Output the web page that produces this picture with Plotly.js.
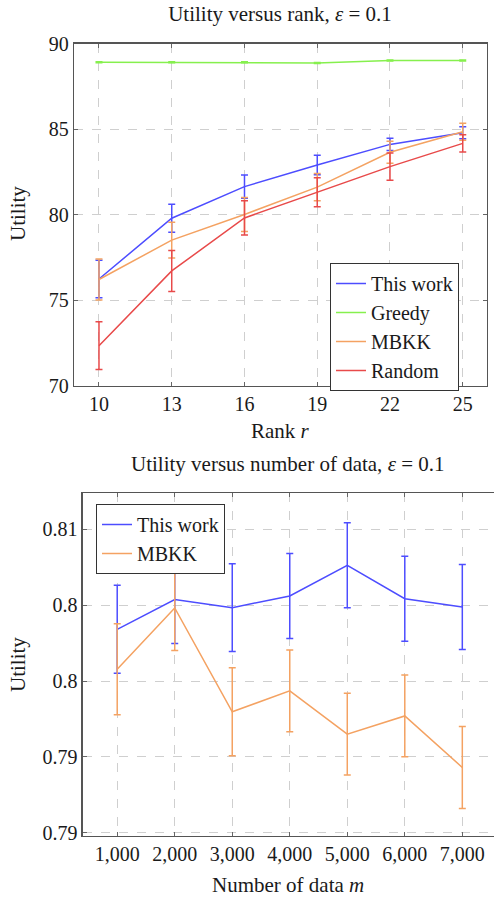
<!DOCTYPE html>
<html>
<head>
<meta charset="utf-8">
<script src="https://cdn.plot.ly/plotly-3.0.1.min.js"></script>
<style>html,body{margin:0;padding:0;background:#fff;}#chart{width:494px;height:898px;}</style>
</head>
<body>
<div id="chart"></div>
<script>
// ---- Top chart: Utility versus rank ----
const rank = [10, 13, 16, 19, 22, 25];
const thisWorkRank = [76.23, 79.78, 81.63, 82.90, 84.10, 84.78];
const thisWorkRankErr = [1.1, 0.82, 0.68, 0.57, 0.36, 0.35];
const greedyRank = [88.9, 88.9, 88.9, 88.86, 89.0, 89.0];
const greedyRankErr = [0.03, 0.03, 0.03, 0.03, 0.03, 0.03];
const mbkkRank = [76.2, 78.5, 80.0, 81.6, 83.64, 84.84];
const mbkkRankErr = [1.2, 1.05, 1.0, 0.8, 0.65, 0.5];
const randomRank = [72.33, 76.7, 79.8, 81.3, 82.8, 84.16];
const randomRankErr = [1.4, 1.2, 1.0, 0.85, 0.8, 0.5];
const rankYTicks = [70, 75, 80, 85, 90];

// ---- Bottom chart: Utility versus number of data ----
const numData = [1000, 2000, 3000, 4000, 5000, 6000, 7000];
const thisWorkData = [0.80341, 0.80537, 0.80484, 0.80561, 0.80763, 0.80543, 0.80488];
const thisWorkDataErr = [0.0029, 0.0029, 0.0029, 0.0028, 0.0028, 0.0028, 0.0028];
const mbkkData = [0.80078, 0.80482, 0.79797, 0.79935, 0.7965, 0.7977, 0.7943];
const mbkkDataErr = [0.0030, 0.0028, 0.0029, 0.0027, 0.0027, 0.0027, 0.0027];
const dataYTicks = [0.79, 0.795, 0.8, 0.805, 0.81];
const dataYTickText = ['0.79', '0.79', '0.8', '0.8', '0.81'];

const C_BLUE = '#4d4dff', C_GREEN = '#86f04e', C_ORANGE = '#f4a262', C_RED = '#e84a4a';
const FONT = 'Liberation Serif';
const TXT = '#1a1a1a';

function tr(x, y, e, name, color, xa, ya, leg) {
  return {
    type: 'scatter', mode: 'lines', x: x, y: y, name: name,
    xaxis: xa, yaxis: ya, legend: leg,
    line: {color: color, width: 1.5},
    error_y: {type: 'data', array: e, visible: true, color: color, thickness: 1.5, width: 3.5}
  };
}

const data = [
  tr(rank, thisWorkRank, thisWorkRankErr, 'This work', C_BLUE, 'x', 'y', 'legend'),
  tr(rank, greedyRank, greedyRankErr, 'Greedy', C_GREEN, 'x', 'y', 'legend'),
  tr(rank, mbkkRank, mbkkRankErr, 'MBKK', C_ORANGE, 'x', 'y', 'legend'),
  tr(rank, randomRank, randomRankErr, 'Random', C_RED, 'x', 'y', 'legend'),
  tr(numData, thisWorkData, thisWorkDataErr, 'This work', C_BLUE, 'x2', 'y2', 'legend2'),
  tr(numData, mbkkData, mbkkDataErr, 'MBKK', C_ORANGE, 'x2', 'y2', 'legend2')
];

const W = 494, H = 898;
function ax(extra) {
  return Object.assign({
    showgrid: true, gridcolor: '#cfcfcf', griddash: 'dash', gridwidth: 1,
    zeroline: false, showline: true, linecolor: '#555', linewidth: 1.3,
    ticks: 'inside', ticklen: 4, tickcolor: '#666',
    tickfont: {family: FONT, size: 20, color: TXT}
  }, extra);
}

const legBase = {
  xanchor: 'left', yanchor: 'top',
  bordercolor: '#333', borderwidth: 1, bgcolor: '#fff',
  entrywidth: 100, entrywidthmode: 'pixels',
  font: {family: FONT, size: 20, color: TXT}
};

const layout = {
  width: W, height: H,
  margin: {l: 0, r: 0, t: 0, b: 0},
  paper_bgcolor: '#fff', plot_bgcolor: '#fff',
  font: {family: FONT, color: TXT, size: 20},
  xaxis: ax({
    domain: [74 / W, 487 / W], anchor: 'y', range: [8.97, 26.0],
    tickvals: rank, mirror: 'ticks'
  }),
  yaxis: ax({
    domain: [1 - 385.5 / H, 1 - 43.5 / H], anchor: 'x', range: [70, 90],
    tickvals: rankYTicks, mirror: 'ticks'
  }),
  xaxis2: ax({
    domain: [82.7 / W, 1], anchor: 'y2', range: [400, 7551],
    tickvals: numData, tickformat: ',', mirror: 'ticks'
  }),
  yaxis2: ax({
    domain: [1 - 835.7 / H, 1 - 493 / H], anchor: 'x2', range: [0.7898, 0.8124],
    tickvals: dataYTicks, ticktext: dataYTickText, mirror: false
  }),
  legend: Object.assign({}, legBase, {x: 330 / W, y: 1 - 263 / H}),
  legend2: Object.assign({}, legBase, {x: 96 / W, y: 1 - 504 / H}),
  title: {
    text: 'Utility versus rank, <i>ε</i> = 0.1',
    x: 280 / W, xanchor: 'center', y: 1 - 14 / H, yanchor: 'middle',
    font: {family: FONT, size: 21, color: TXT}
  },
  annotations: [
    {text: 'Utility versus number of data, <i>ε</i> = 0.1', xref: 'paper', yref: 'paper',
     x: 288 / W, y: 1 - 464 / H, xanchor: 'center', yanchor: 'middle', showarrow: false,
     font: {family: FONT, size: 21, color: TXT}},
    {text: 'Rank <i>r</i>', xref: 'paper', yref: 'paper',
     x: 280 / W, y: 1 - 431 / H, xanchor: 'center', yanchor: 'middle', showarrow: false,
     font: {family: FONT, size: 21, color: TXT}},
    {text: 'Utility', xref: 'paper', yref: 'paper', textangle: -90,
     x: 18 / W, y: 1 - 214 / H, xanchor: 'center', yanchor: 'middle', showarrow: false,
     font: {family: FONT, size: 21, color: TXT}},
    {text: 'Number of data <i>m</i>', xref: 'paper', yref: 'paper',
     x: 288 / W, y: 1 - 885 / H, xanchor: 'center', yanchor: 'middle', showarrow: false,
     font: {family: FONT, size: 21, color: TXT}},
    {text: 'Utility', xref: 'paper', yref: 'paper', textangle: -90,
     x: 18 / W, y: 1 - 665 / H, xanchor: 'center', yanchor: 'middle', showarrow: false,
     font: {family: FONT, size: 21, color: TXT}}
  ]
};

Plotly.newPlot('chart', data, layout, {displayModeBar: false, staticPlot: true});
</script>
</body>
</html>
